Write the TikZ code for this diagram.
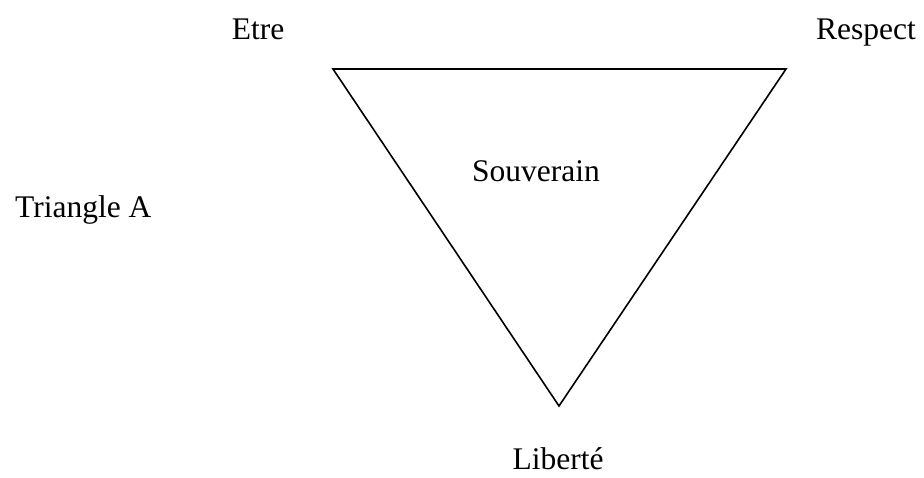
\documentclass[tikz,border=0pt]{standalone}
\usepackage{fontspec}
\setmainfont{Liberation Serif}
\begin{document}
\begin{tikzpicture}[x=1pt,y=-1pt,
  lbl/.style={anchor=base,inner sep=0pt,font=\fontsize{31.5}{36}\selectfont},
  edge/.style={line width=1.6pt,line join=miter}]
\useasboundingbox (0,0) rectangle (924,478);
\coordinate (tl) at (333,69);
\coordinate (tr) at (786,69);
\coordinate (bt) at (559,406);
\draw[edge] (tl) -- (tr) -- (bt) -- cycle;
\node[lbl] (etre) at (258,40) {Etre};
\node[lbl] (respect) at (866,40) {Respect};
\node[lbl] (souv) at (536,182) {Souverain};
\node[lbl,anchor=base west] (tria) at (15,218) {Triangle A};
\node[lbl] (lib) at (558,469) {Liberté};
\end{tikzpicture}
\end{document}
